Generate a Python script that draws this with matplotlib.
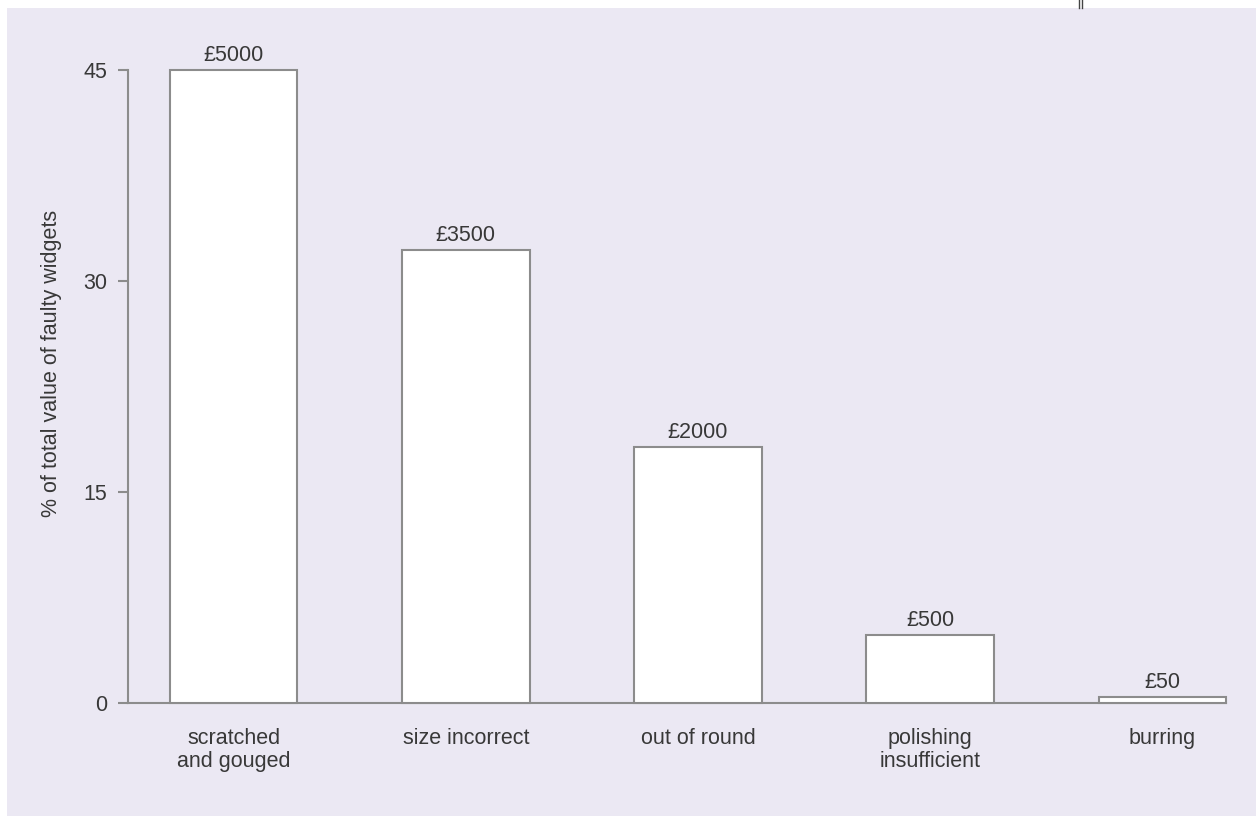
import matplotlib.pyplot as plt
from matplotlib.lines import Line2D
from matplotlib.patches import Rectangle

categories = ['scratched\nand gouged', 'size incorrect', 'out of round',
              'polishing\ninsufficient', 'burring']
percent = [45.0, 32.2, 18.2, 4.8, 0.45]
costs = ['£5000', '£3500', '£2000', '£500', '£50']

plt.rcParams['font.family'] = ['Liberation Sans', 'DejaVu Sans']

bg = '#ebe8f3'
edge = '#8c8c8c'
txt = '#383838'
fs = 15.5

fig = plt.figure(figsize=(12.56, 8.16), dpi=100, facecolor='white')
fig.add_artist(Rectangle((7/1256, 0), 1, (816-8)/816, transform=fig.transFigure,
                         facecolor=bg, edgecolor='none', zorder=-10))
for xx in (1079/1256, 1082/1256):
    fig.add_artist(Line2D([xx, xx], [1, (816-8)/816], transform=fig.transFigure,
                          color='#444444', lw=1))

ax = fig.add_axes([128/1256, 113/816, (1226-128)/1256, (703-70)/816])
ax.set_facecolor('none')

x = list(range(len(categories)))
bars = ax.bar(x, percent, width=0.55, color='white', edgecolor=edge, linewidth=1.5,
              clip_on=False, zorder=3)
for b, c in zip(bars, costs):
    ax.annotate(c, (b.get_x() + b.get_width()/2, b.get_height()), xytext=(0, 3),
                textcoords='offset points', ha='center', va='bottom',
                fontsize=fs, color=txt)

ax.set_xlim(-0.455, 4.274)
ax.set_ylim(0, 45)
ax.set_yticks([0, 15, 30, 45])
ax.set_xticks(x)
ax.set_xticklabels(categories, fontsize=fs, color=txt, linespacing=1.1)
ax.tick_params(axis='x', length=0, pad=18)
ax.tick_params(axis='y', length=7, width=1.5, color=edge, labelsize=fs,
               labelcolor=txt, pad=8)
for s in ['top', 'right']:
    ax.spines[s].set_visible(False)
for s in ['left', 'bottom']:
    ax.spines[s].set_color(edge)
    ax.spines[s].set_linewidth(1.5)
ax.set_ylabel('% of total value of faulty widgets', fontsize=fs, color=txt)
ax.yaxis.set_label_coords(-0.060, 0.537)

plt.savefig('out.png', dpi=100, facecolor='white')
